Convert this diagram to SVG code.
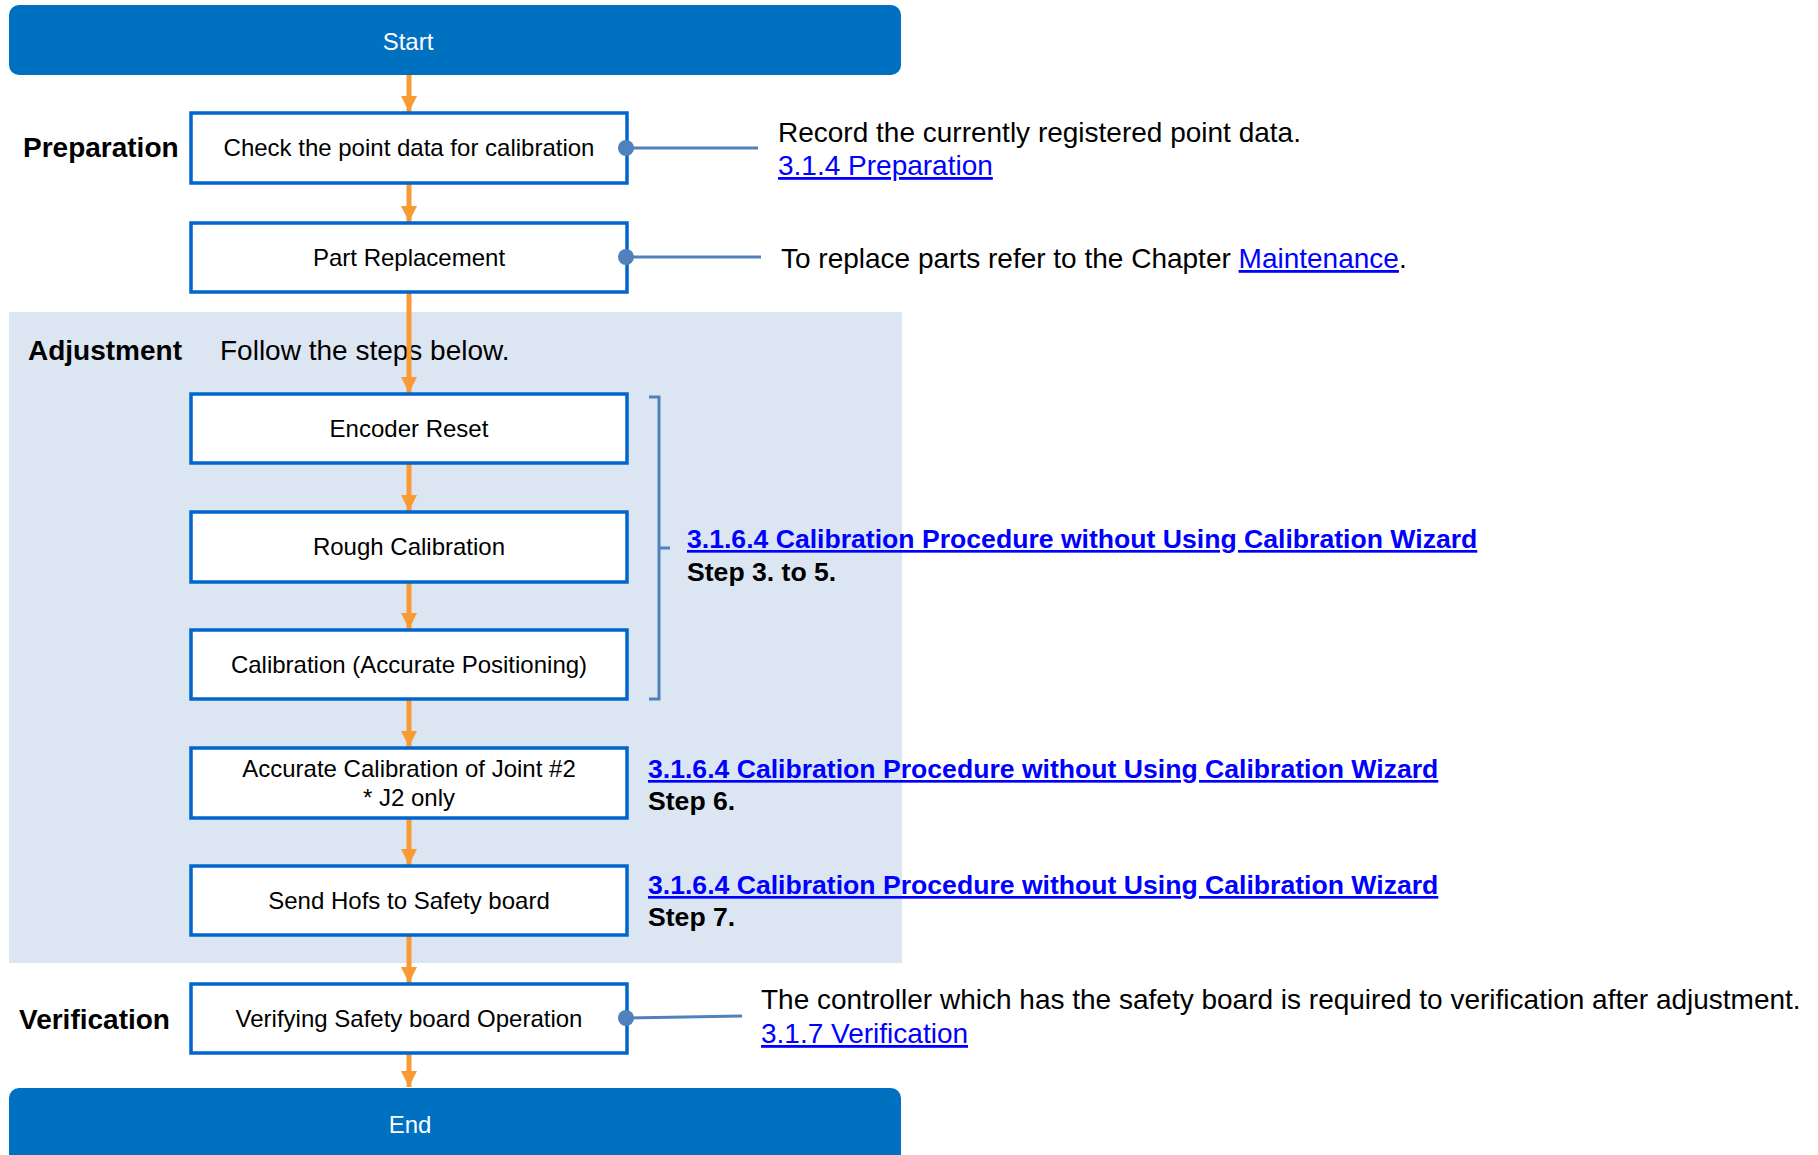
<svg xmlns="http://www.w3.org/2000/svg" width="1818" height="1155" viewBox="0 0 1818 1155">
<style>
  text { font-family: "Liberation Sans", Arial, sans-serif; fill: #000; }
  .term { fill: #0070C0; }
  .termtxt { fill: #fff; font-size: 24px; text-anchor: middle; }
  .box { fill: #fff; stroke: #0066CC; stroke-width: 3.5; }
  .boxtxt { font-size: 24px; text-anchor: middle; }
  .sec { font-size: 28px; font-weight: bold; }
  .note { font-size: 28px; }
  .link { fill: #0000FF; text-decoration: underline; }
  .blink { font-size: 26.6px; font-weight: bold; fill: #0000FF; text-decoration: underline; }
  .step { font-size: 26.6px; font-weight: bold; }
  .flow { stroke: #F99B35; stroke-width: 5; fill: none; marker-end: url(#ah); }
  .lead { stroke: #4F81BD; stroke-width: 3; fill: none; }
  .dot { fill: #4F81BD; }
</style>
<defs>
  <marker id="ah" viewBox="0 0 10 10" refX="10" refY="5" markerWidth="3.3" markerHeight="3.3" orient="auto" markerUnits="strokeWidth">
    <path d="M0,0 L10,5 L0,10 z" fill="#F99B35"/>
  </marker>
</defs>
<rect width="1818" height="1155" fill="#fff"/>
<rect id="adjustment-panel" x="9" y="312" width="893" height="651" fill="#DCE6F2"/>

<g id="labels">
  <text class="sec" x="23" y="157">Preparation</text>
  <text class="sec" x="28" y="360">Adjustment</text>
  <text class="note" x="220" y="360">Follow the steps below.</text>
  <text class="sec" x="19" y="1029">Verification</text>
</g>

<g id="notes">
  <text class="note" x="778" y="142">Record the currently registered point data.</text>
  <text class="note link" x="778" y="175">3.1.4 Preparation</text>
  <text class="note" x="781" y="268">To replace parts refer to the Chapter <tspan class="link">Maintenance</tspan>.</text>
  <text class="blink" x="687" y="548">3.1.6.4 Calibration Procedure without Using Calibration Wizard</text>
  <text class="step" x="687" y="581">Step 3. to 5.</text>
  <text class="blink" x="648" y="778">3.1.6.4 Calibration Procedure without Using Calibration Wizard</text>
  <text class="step" x="648" y="810">Step 6.</text>
  <text class="blink" x="648" y="894">3.1.6.4 Calibration Procedure without Using Calibration Wizard</text>
  <text class="step" x="648" y="926">Step 7.</text>
  <text class="note" x="761" y="1009">The controller which has the safety board is required to verification after adjustment.</text>
  <text class="note link" x="761" y="1043">3.1.7 Verification</text>
</g>

<g id="connectors">
  <line class="flow" x1="409" y1="75" x2="409" y2="112"/>
  <line class="flow" x1="409" y1="184" x2="409" y2="222"/>
  <line class="flow" x1="409" y1="293" x2="409" y2="393"/>
  <line class="flow" x1="409" y1="464" x2="409" y2="511"/>
  <line class="flow" x1="409" y1="583" x2="409" y2="629"/>
  <line class="flow" x1="409" y1="700" x2="409" y2="747"/>
  <line class="flow" x1="409" y1="819" x2="409" y2="865"/>
  <line class="flow" x1="409" y1="936" x2="409" y2="983"/>
  <line class="flow" x1="409" y1="1054" x2="409" y2="1087"/>
  <line class="lead" x1="627" y1="148" x2="758" y2="148"/>
  <line class="lead" x1="627" y1="257" x2="761" y2="257"/>
  <line class="lead" x1="627" y1="1018" x2="742" y2="1016"/>
  <path class="lead" d="M649,397 H659 V699 H649 M659,548 H670"/>
</g>

<g id="start"><rect class="term" x="9" y="5" width="892" height="70" rx="10"/><text class="termtxt" x="408" y="50">Start</text></g>
<g id="check-point-data"><rect class="box" x="191" y="113" width="436" height="70"/><text class="boxtxt" x="409" y="156">Check the point data for calibration</text><circle class="dot" cx="626" cy="148" r="8"/></g>
<g id="part-replacement"><rect class="box" x="191" y="223" width="436" height="69"/><text class="boxtxt" x="409" y="266">Part Replacement</text><circle class="dot" cx="626" cy="257" r="8"/></g>
<g id="encoder-reset"><rect class="box" x="191" y="394" width="436" height="69"/><text class="boxtxt" x="409" y="437">Encoder Reset</text></g>
<g id="rough-calibration"><rect class="box" x="191" y="512" width="436" height="70"/><text class="boxtxt" x="409" y="555">Rough Calibration</text></g>
<g id="calibration-accurate"><rect class="box" x="191" y="630" width="436" height="69"/><text class="boxtxt" x="409" y="673">Calibration (Accurate Positioning)</text></g>
<g id="accurate-j2"><rect class="box" x="191" y="748" width="436" height="70"/><text class="boxtxt" x="409" y="777">Accurate Calibration of Joint #2</text><text class="boxtxt" x="409" y="806">* J2 only</text></g>
<g id="send-hofs"><rect class="box" x="191" y="866" width="436" height="69"/><text class="boxtxt" x="409" y="909">Send Hofs to Safety board</text></g>
<g id="verifying"><rect class="box" x="191" y="984" width="436" height="69"/><text class="boxtxt" x="409" y="1027">Verifying Safety board Operation</text><circle class="dot" cx="626" cy="1018" r="8"/></g>
<g id="end"><rect class="term" x="9" y="1088" width="892" height="80" rx="10"/><text class="termtxt" x="410" y="1133">End</text></g>
</svg>
